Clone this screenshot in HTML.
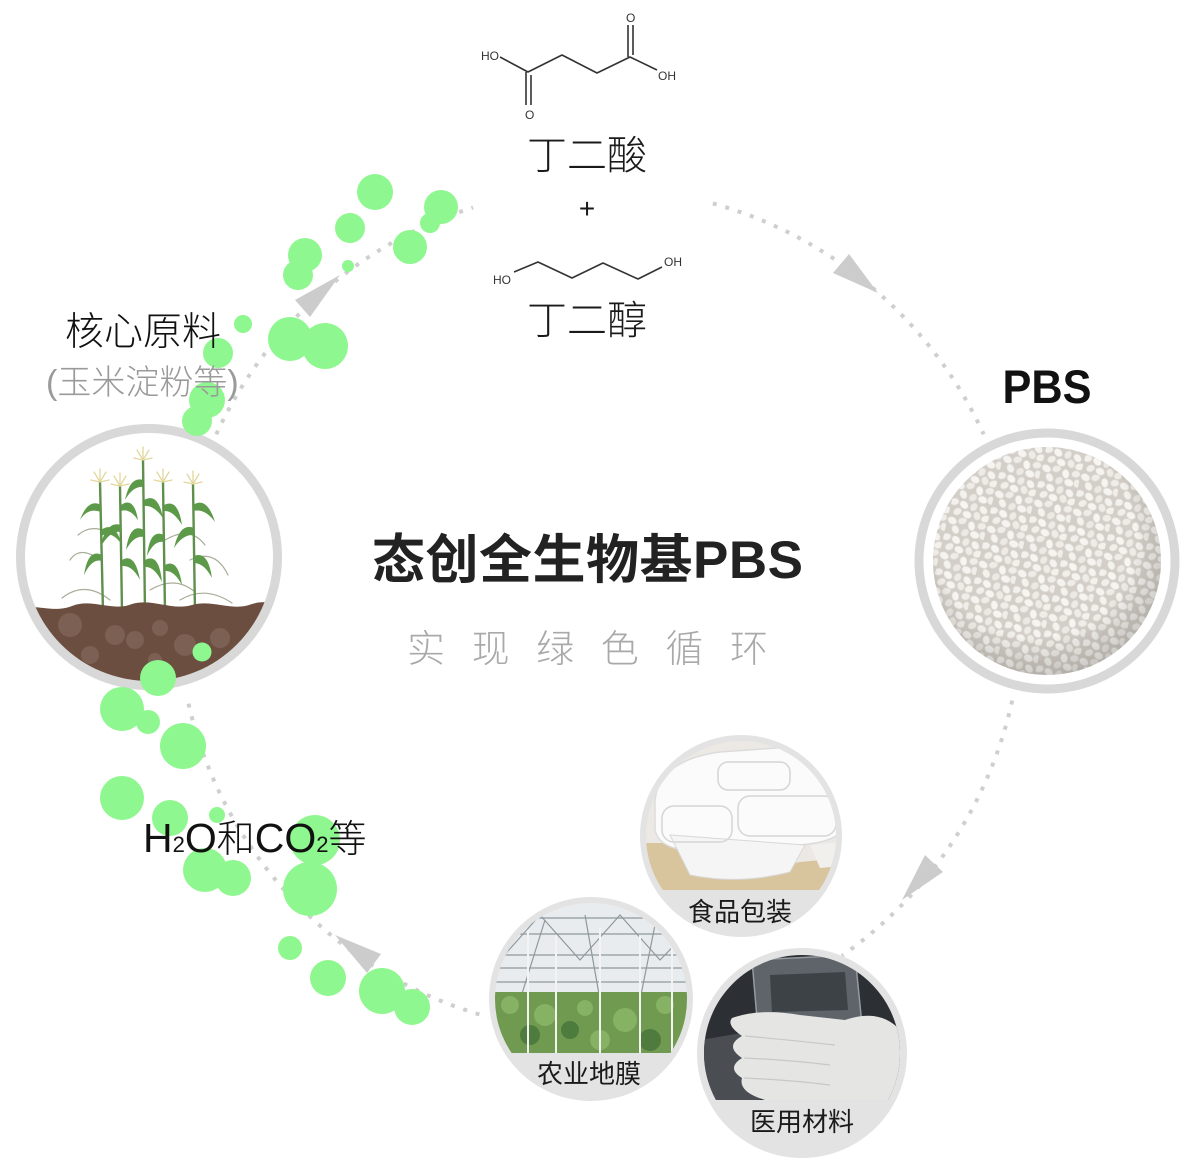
<!DOCTYPE html>
<html><head><meta charset="utf-8">
<style>
html,body{margin:0;padding:0;background:#fff;}
svg{display:block;}
text{font-family:"Liberation Sans","Noto Sans CJK SC",sans-serif;}
</style></head>
<body>
<svg width="1194" height="1161" viewBox="0 0 1194 1161" xmlns="http://www.w3.org/2000/svg">
<defs>
  <clipPath id="cLeft"><circle cx="149" cy="557" r="124"/></clipPath>
  <clipPath id="cPBS"><circle cx="1047" cy="561" r="114"/></clipPath>
  <clipPath id="cFood"><circle cx="741" cy="836" r="95"/></clipPath>
  <clipPath id="cAgri"><circle cx="591" cy="999" r="96"/></clipPath>
  <clipPath id="cMed"><circle cx="802" cy="1053" r="98"/></clipPath>
  <pattern id="pel" width="40" height="36" patternUnits="userSpaceOnUse" patternTransform="rotate(13)">
    <rect width="40" height="36" fill="#d3cec7"/>
    <g stroke="#dcd8d2" stroke-width=".6">
    <ellipse cx="5" cy="5" rx="4.8" ry="3.6" transform="rotate(20 5 5)" fill="#f5f3f0"/>
    <ellipse cx="15" cy="3" rx="4.4" ry="3.4" transform="rotate(-30 15 3)" fill="#efece8"/>
    <ellipse cx="25" cy="6" rx="4.7" ry="3.5" transform="rotate(70 25 6)" fill="#f7f5f2"/>
    <ellipse cx="35" cy="4" rx="4.3" ry="3.5" transform="rotate(-15 35 4)" fill="#f0ede9"/>
    <ellipse cx="10" cy="13" rx="4.6" ry="3.5" transform="rotate(50 10 13)" fill="#f4f2ee"/>
    <ellipse cx="20" cy="14" rx="4.2" ry="3.4" transform="rotate(-50 20 14)" fill="#ece9e4"/>
    <ellipse cx="30" cy="14" rx="4.8" ry="3.6" transform="rotate(10 30 14)" fill="#f6f4f1"/>
    <ellipse cx="38" cy="13" rx="4.2" ry="3.3" transform="rotate(80 38 13)" fill="#f1eee9"/>
    <ellipse cx="3" cy="22" rx="4.5" ry="3.5" transform="rotate(-20 3 22)" fill="#f3f1ed"/>
    <ellipse cx="13" cy="23" rx="4.7" ry="3.6" transform="rotate(30 13 23)" fill="#f7f5f2"/>
    <ellipse cx="23" cy="23" rx="4.3" ry="3.4" transform="rotate(-70 23 23)" fill="#eeebe6"/>
    <ellipse cx="33" cy="24" rx="4.6" ry="3.5" transform="rotate(40 33 24)" fill="#f5f3ef"/>
    <ellipse cx="8" cy="31" rx="4.4" ry="3.4" transform="rotate(-40 8 31)" fill="#f2efeb"/>
    <ellipse cx="18" cy="32" rx="4.7" ry="3.6" transform="rotate(15 18 32)" fill="#f6f4f0"/>
    <ellipse cx="28" cy="31" rx="4.3" ry="3.5" transform="rotate(60 28 31)" fill="#efece7"/>
    <ellipse cx="37" cy="32" rx="4.6" ry="3.5" transform="rotate(-25 37 32)" fill="#f4f1ed"/>
    </g>
  </pattern>
  <radialGradient id="pelShade" cx="0.45" cy="0.4" r="0.65">
    <stop offset="0.65" stop-color="#000" stop-opacity="0"/>
    <stop offset="1" stop-color="#3a3530" stop-opacity="0.25"/>
  </radialGradient>
</defs>

<rect width="1194" height="1161" fill="#fff"/>

<!-- dotted cycle -->
<g fill="none" stroke="#cfcfcf" stroke-width="4" stroke-dasharray="4 9">
  <path d="M712.8,203.4 A422,422 0 0 1 983.7,434.3"/>
  <path d="M1012.2,700.6 A422,422 0 0 1 842,955.7"/>
  <path d="M479.4,1014.4 A422,422 0 0 1 187.2,697.7"/>
  <path d="M216.3,434.3 A422,422 0 0 1 473.1,207.5"/>
</g>
<g fill="#cccccc">
  <polygon points="849,254 833,273 878,293"/>
  <polygon points="925,855 943,872 902,900"/>
  <polygon points="335,935 381,954 367,973"/>
  <polygon points="340,275 295,300 310,317"/>
</g>

<!-- molecules -->
<g stroke="#333" stroke-width="1.6" fill="none" stroke-linejoin="round">
  <path d="M500,57 L528,72 L562,55 L597,73 L630,57 L657,70"/>
  <path d="M526,72 L526,105 M531,75 L531,105"/>
  <path d="M628,57 L628,25 M633,55 L633,25"/>
  <path d="M514,272 L538,262 L572,278 L603,263 L638,279 L662,267"/>
</g>
<g fill="#333" font-size="12">
  <text x="481" y="60">HO</text>
  <text x="525" y="119">O</text>
  <text x="626" y="22">O</text>
  <text x="658" y="80">OH</text>
  <text x="493" y="284">HO</text>
  <text x="664" y="266">OH</text>
</g>
<text x="587" y="169" font-size="40" text-anchor="middle" fill="#1a1a1a" font-weight="300">丁二酸</text>
<text x="587" y="218" font-size="28" text-anchor="middle" fill="#1a1a1a">+</text>
<text x="587" y="334" font-size="40" text-anchor="middle" fill="#1a1a1a" font-weight="300">丁二醇</text>

<!-- left circle (corn) -->
<circle cx="149" cy="557" r="128.5" fill="#fff" stroke="#d8d8d8" stroke-width="9"/>
<g clip-path="url(#cLeft)">
  <g stroke-linecap="round">
    <g stroke="#a7ad98" stroke-width="1.2" fill="none">
      <path d="M100,560 Q80,545 70,560"/>
      <path d="M120,540 Q95,520 78,535"/>
      <path d="M190,560 Q215,548 228,575"/>
      <path d="M165,540 Q190,525 205,545"/>
      <path d="M110,600 Q85,580 62,598"/>
      <path d="M180,600 Q205,585 232,603"/>
      <path d="M150,590 Q175,575 195,592"/>
    </g>
    <g stroke="#5f8f4c" stroke-width="2.4" fill="none">
      <path d="M103,612 L100,482"/>
      <path d="M122,612 L120,486"/>
      <path d="M145,612 L143,460"/>
      <path d="M165,612 L163,482"/>
      <path d="M195,612 L193,484"/>
    </g>
    <g fill="#5c9a49">
      <path d="M101,505 Q88,498 80,520 Q88,507 101,512 Z"/>
      <path d="M101,530 Q115,520 122,545 Q112,530 101,536 Z"/>
      <path d="M102,555 Q88,548 84,575 Q92,558 102,561 Z"/>
      <path d="M121,505 Q134,496 138,520 Q130,508 121,511 Z"/>
      <path d="M121,525 Q106,520 100,548 Q110,530 121,532 Z"/>
      <path d="M122,560 Q135,552 140,580 Q132,565 122,566 Z"/>
      <path d="M143,480 Q130,476 125,500 Q133,486 143,487 Z"/>
      <path d="M144,500 Q158,492 163,518 Q154,505 144,506 Z"/>
      <path d="M144,530 Q130,522 126,550 Q134,535 144,537 Z"/>
      <path d="M145,560 Q159,552 162,582 Q154,566 145,567 Z"/>
      <path d="M164,505 Q178,498 182,525 Q173,510 164,511 Z"/>
      <path d="M164,535 Q150,528 147,556 Q154,540 164,542 Z"/>
      <path d="M165,565 Q178,558 182,585 Q174,570 165,571 Z"/>
      <path d="M193,505 Q207,496 215,522 Q205,508 193,511 Z"/>
      <path d="M194,528 Q180,522 174,548 Q183,534 194,535 Z"/>
      <path d="M194,556 Q208,550 212,578 Q204,563 194,563 Z"/>
    </g>
    <g stroke="#e2d79c" stroke-width="1.3" fill="none">
      <path d="M100,482 L94,472 M100,482 L100,469 M100,482 L106,472 M100,482 L91,480 M100,482 L109,480"/>
      <path d="M120,486 L114,476 M120,486 L120,473 M120,486 L126,476 M120,486 L111,484 M120,486 L129,484"/>
      <path d="M143,460 L137,450 M143,460 L143,447 M143,460 L149,450 M143,460 L134,458 M143,460 L152,458"/>
      <path d="M163,482 L157,472 M163,482 L163,469 M163,482 L169,472 M163,482 L154,480 M163,482 L172,480"/>
      <path d="M193,484 L187,474 M193,484 L193,471 M193,484 L199,474 M193,484 L184,482 M193,484 L202,482"/>
    </g>
  </g>
  <path d="M18,610 C35,602 52,614 72,606 C92,598 112,612 132,604 C152,598 172,611 192,605 C212,599 232,612 252,604 C265,600 275,604 285,603 L285,700 L18,700 Z" fill="#6b4e3f"/>
  <g fill="#8a6f66" opacity="0.55">
    <circle cx="70" cy="625" r="12"/>
    <circle cx="115" cy="635" r="10"/>
    <circle cx="135" cy="640" r="9"/>
    <circle cx="160" cy="628" r="8"/>
    <circle cx="185" cy="645" r="11"/>
    <circle cx="220" cy="638" r="10"/>
    <circle cx="90" cy="655" r="9"/>
    <circle cx="155" cy="660" r="7"/>
  </g>
</g>

<!-- PBS circle -->
<circle cx="1047" cy="561" r="128" fill="#fff" stroke="#d8d8d8" stroke-width="9"/>
<g clip-path="url(#cPBS)">
  <rect x="930" y="444" width="234" height="234" fill="url(#pel)"/>
  <rect x="930" y="444" width="234" height="234" fill="url(#pelShade)"/>
</g>
<text x="1047" y="403" font-size="47" font-weight="700" text-anchor="middle" fill="#111" textLength="89" lengthAdjust="spacingAndGlyphs">PBS</text>

<!-- Food circle -->
<circle cx="741" cy="836" r="101" fill="#e3e3e3"/>
<g clip-path="url(#cFood)">
  <rect x="640" y="735" width="202" height="155" fill="#ece9e4"/>
  <path d="M640,843 L700,843 L720,870 L760,870 L800,862 L842,858 L842,890 L640,890 Z" fill="#d8c59e"/>
  <path d="M655,800 Q660,760 720,752 L820,745 Q845,748 842,790 L842,830 Q835,842 800,845 L700,850 Q660,852 655,830 Z" fill="#fbfbfb" stroke="#dcdcdc" stroke-width="1.5"/>
  <path d="M670,835 L690,875 Q740,885 790,872 L805,845 Z" fill="#f5f5f5" stroke="#d8d8d8" stroke-width="1"/>
  <path d="M810,845 L820,868 L842,866 L842,842 Z" fill="#f2f0ec"/>
  <g fill="none" stroke="#d5d5d5" stroke-width="1.5">
    <rect x="718" y="762" width="72" height="28" rx="10"/>
    <rect x="738" y="796" width="98" height="40" rx="12"/>
    <rect x="662" y="806" width="70" height="36" rx="12"/>
  </g>
</g>
<text x="740" y="921" font-size="26" text-anchor="middle" fill="#1a1a1a">食品包装</text>

<!-- Agri circle -->
<circle cx="591" cy="999" r="102" fill="#e3e3e3"/>
<g clip-path="url(#cAgri)">
  <rect x="490" y="900" width="204" height="153" fill="#e8ecee"/>
  <g stroke="#8f989e" stroke-width="1.2" fill="none">
    <path d="M490,918 L694,918 M490,934 L694,934 M490,955 L694,955 M490,968 L694,968 M490,982 L694,982"/>
    <path d="M500,960 L540,915 L580,960 L620,915 L660,960 L694,925"/>
    <path d="M520,1000 L545,920 M600,1000 L585,915 M640,1000 L655,925"/>
  </g>
  <rect x="490" y="992" width="204" height="61" fill="#6f9a50"/>
  <g fill="#8db86a" opacity="0.8">
    <circle cx="510" cy="1005" r="9"/><circle cx="545" cy="1015" r="11"/><circle cx="585" cy="1008" r="8"/>
    <circle cx="625" cy="1020" r="12"/><circle cx="665" cy="1005" r="9"/><circle cx="600" cy="1040" r="10"/>
  </g>
  <g fill="#47733a" opacity="0.8">
    <circle cx="530" cy="1035" r="10"/><circle cx="570" cy="1030" r="9"/><circle cx="650" cy="1040" r="11"/>
  </g>
  <g stroke="#f3f3f3" stroke-width="2">
    <path d="M528,930 L528,1053 M556,935 L556,1053 M600,928 L600,1053 M640,935 L640,1053 M672,930 L672,1053"/>
  </g>
</g>
<text x="589" y="1083" font-size="26" text-anchor="middle" fill="#1a1a1a">农业地膜</text>

<!-- Medical circle -->
<circle cx="802" cy="1053" r="105" fill="#e3e3e3"/>
<g clip-path="url(#cMed)">
  <rect x="700" y="950" width="210" height="150" fill="#2c3034"/>
  <path d="M700,1040 L760,1030 L760,1100 L700,1100 Z" fill="#4a4e52"/>
  <path d="M752,960 L855,955 L862,1025 L758,1030 Z" fill="#6f767b" opacity="0.75" stroke="#b8bec2" stroke-width="1.5"/>
  <path d="M770,975 L845,972 L848,1010 L772,1012 Z" fill="#3d4246"/>
  <path d="M732,1018 Q760,1008 800,1015 L845,1020 Q880,1008 900,1030 L905,1100 L765,1100 Q738,1092 742,1078 Q726,1068 742,1058 Q724,1046 742,1036 Q726,1025 732,1018 Z" fill="#e5e5e3"/>
  <g stroke="#c8c8c6" stroke-width="1.2" fill="none">
    <path d="M745,1036 Q790,1040 835,1045 M744,1058 Q790,1060 830,1065 M744,1078 Q790,1080 830,1085"/>
  </g>
</g>
<text x="802" y="1131" font-size="26" text-anchor="middle" fill="#1a1a1a">医用材料</text>

<!-- green bubbles -->
<g fill="#8ff78f">
  <circle cx="375" cy="192" r="18"/>
  <circle cx="441" cy="207" r="17"/>
  <circle cx="430" cy="223" r="10"/>
  <circle cx="410" cy="247" r="17"/>
  <circle cx="350" cy="228" r="15"/>
  <circle cx="305" cy="255" r="17"/>
  <circle cx="298" cy="275" r="15"/>
  <circle cx="348" cy="266" r="6"/>
  <circle cx="243" cy="324" r="9"/>
  <circle cx="290" cy="339" r="22"/>
  <circle cx="325" cy="346" r="23"/>
  <circle cx="218" cy="353" r="15"/>
  <circle cx="207" cy="400" r="18"/>
  <circle cx="197" cy="421" r="15"/>
  <circle cx="202" cy="652" r="9.5"/>
  <circle cx="158" cy="678" r="18"/>
  <circle cx="122" cy="709" r="22"/>
  <circle cx="148" cy="722" r="12"/>
  <circle cx="183" cy="746" r="23"/>
  <circle cx="122" cy="798" r="22"/>
  <circle cx="170" cy="818" r="18"/>
  <circle cx="217" cy="815" r="8"/>
  <circle cx="205" cy="870" r="22"/>
  <circle cx="233" cy="878" r="18"/>
  <circle cx="315" cy="840" r="25"/>
  <circle cx="310" cy="889" r="27"/>
  <circle cx="290" cy="948" r="12"/>
  <circle cx="328" cy="978" r="18"/>
  <circle cx="382" cy="991" r="23"/>
  <circle cx="412" cy="1007" r="18"/>
</g>

<!-- labels -->
<text x="65" y="345" font-size="39" fill="#111" font-weight="300">核心原料</text>
<text x="46" y="394" font-size="34" fill="#9a9a9a" font-weight="300">(玉米淀粉等)</text>
<text x="143" y="852" font-size="41" fill="#111" font-weight="300">H<tspan font-size="22">2</tspan>O<tspan font-size="38">和</tspan>CO<tspan font-size="22">2</tspan><tspan font-size="38">等</tspan></text>

<!-- center title -->
<text x="587.5" y="578" font-size="53" font-weight="700" text-anchor="middle" fill="#222" textLength="431" lengthAdjust="spacing">态创全生物基PBS</text>
<g font-size="38" fill="#a9a9a9" text-anchor="middle" font-weight="300">
  <text x="426" y="662">实</text>
  <text x="490.6" y="662">现</text>
  <text x="555.2" y="662">绿</text>
  <text x="619.8" y="662">色</text>
  <text x="684.4" y="662">循</text>
  <text x="749" y="662">环</text>
</g>
</svg>
</body></html>
